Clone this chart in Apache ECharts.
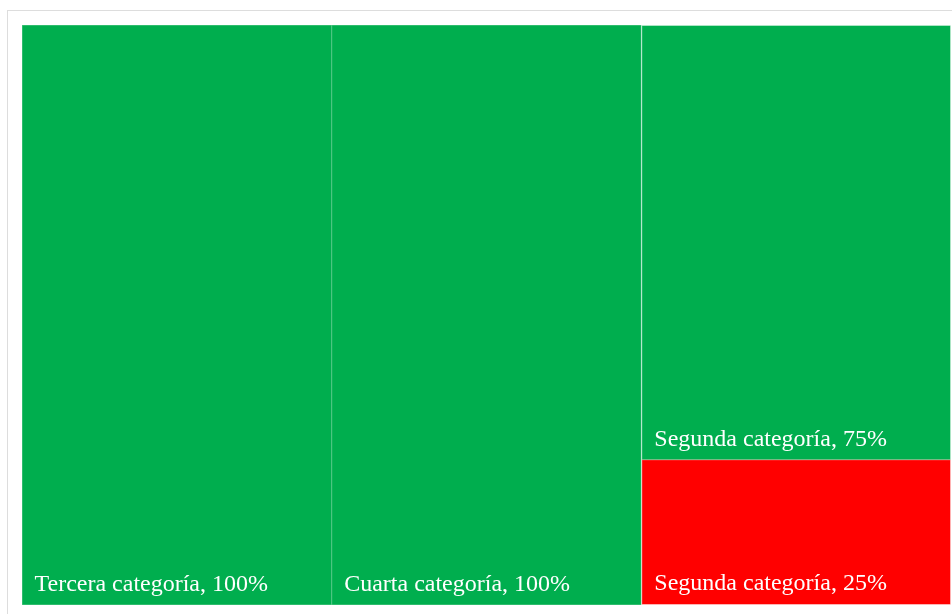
<!DOCTYPE html>
<html>
<head>
<meta charset="utf-8">
<script src="https://cdn.jsdelivr.net/npm/echarts@6/dist/echarts.min.js"></script>
<style>
html,body{margin:0;padding:0;background:#fff;overflow:hidden;}
#frame{position:absolute;left:7px;top:10px;width:1100px;height:800px;border:1px solid #dddddd;box-sizing:border-box;}
#chart{position:absolute;left:0;top:0;width:952px;height:614px;}
</style>
</head>
<body>
<div id="frame"></div>
<div id="chart"></div>
<script>
const topNames = ['Tercera categoría', 'Cuarta categoría', 'Segunda categoría'];
const topValues = [100, 100, null];
const subNames = ['Segunda categoría', 'Segunda categoría'];
const subValues = [75, 25];
const subColors = ['#00ae4e', '#ff0000'];
const subBorders = ['#5ccb8c', '#ff6a6a'];
const green = '#00ae4e';
const greenBorder = '#5ccb8c';

const data = topNames.map((n, i) => {
  if (topValues[i] != null) {
    return { name: n, value: topValues[i], itemStyle: { color: green, borderColor: greenBorder } };
  }
  return {
    name: n,
    value: subValues.reduce((a, b) => a + b, 0),
    children: subNames.map((s, j) => ({ name: s, value: subValues[j], itemStyle: { color: subColors[j], borderColor: subBorders[j] } }))
  };
});

const chart = echarts.init(document.getElementById('chart'));
chart.setOption({
  animation: false,
  series: [{
    type: 'treemap',
    left: 22, top: 25, right: 1, bottom: 9,
    roam: false,
    nodeClick: false,
    sort: false,
    breadcrumb: { show: false },
    squareRatio: 1,
    label: {
      show: true,
      position: 'insideBottomLeft',
      distance: 0,
      padding: [0, 0, 8, 12],
      formatter: p => p.name + ', ' + p.value + '%',
      fontFamily: '"Liberation Serif", "Times New Roman", serif',
      fontSize: 24,
      color: '#ffffff'
    },
    upperLabel: { show: false },
    itemStyle: { borderWidth: 0.5, gapWidth: 0 },
    levels: [
      { itemStyle: { borderWidth: 0, gapWidth: 0, borderColor: greenBorder } },
      { itemStyle: { borderWidth: 0.5, gapWidth: 0 } }
    ],
    data: data
  }]
});
</script>
</body>
</html>
